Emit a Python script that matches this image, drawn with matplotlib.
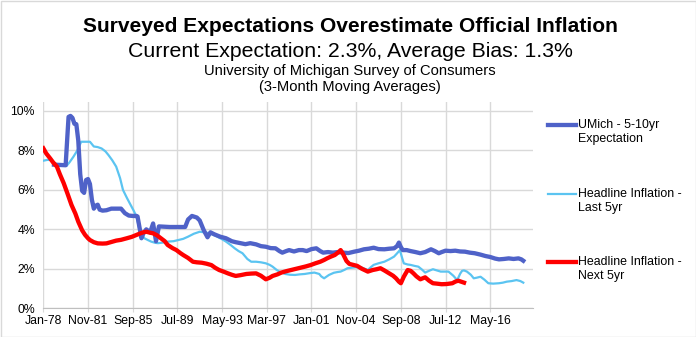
import numpy as np
import pandas as pd
import matplotlib
matplotlib.use('Agg')
import matplotlib.pyplot as plt
from matplotlib.lines import Line2D
from matplotlib.patches import Rectangle
from matplotlib.ticker import FuncFormatter

plt.rcParams['font.family'] = ['Liberation Sans', 'DejaVu Sans']

# months counted from Jan-1978, values in %
umich_month = [11, 23, 25, 26, 28, 30, 32, 34, 36, 38, 40, 42, 44, 46, 48, 50, 52, 54, 56, 58,
               61, 65, 70, 75, 80, 84, 88, 92, 96, 97, 99, 101, 103, 106, 110, 113, 116, 119,
               130, 140, 146, 149, 153, 158, 161, 165, 169, 172, 176, 182, 188, 194, 198, 203,
               208, 213, 219, 224, 229, 234, 239, 243, 246, 250, 253, 258, 263, 267, 271, 276,
               281, 285, 288, 293, 298, 303, 309, 314, 320, 325, 330, 335, 340, 345, 351, 356,
               361, 364, 366, 368, 370, 374, 378, 383, 388, 393, 399, 403, 407, 410, 414, 419,
               424, 429, 434, 439, 444, 450, 455, 460, 465, 469, 474, 479, 484, 489, 492, 494]
umich_val = [7.28, 7.25, 8.9, 9.7, 9.75, 9.65, 9.35, 9.33, 8.5, 6.8, 5.95, 5.85, 6.5, 6.55, 6.3,
             5.5, 5.05, 5.2, 5.25, 5.0, 4.95, 4.97, 5.05, 5.05, 5.05, 4.82, 4.7, 4.68, 4.68, 4.65,
             4.1, 3.55, 3.8, 4.0, 3.85, 4.3, 3.4, 4.15, 4.12, 4.12, 4.12, 4.5, 4.68, 4.6, 4.45,
             3.97, 3.6, 3.85, 3.75, 3.63, 3.55, 3.4, 3.35, 3.3, 3.25, 3.3, 3.24, 3.15, 3.12, 3.05,
             3.04, 2.9, 2.82, 2.9, 2.95, 2.88, 2.95, 2.95, 2.9, 3.0, 3.04, 2.9, 2.82, 2.85, 2.82,
             2.85, 2.82, 2.8, 2.87, 2.92, 2.99, 3.02, 3.07, 3.0, 2.99, 3.02, 3.04, 3.15, 3.33, 3.1,
             2.95, 2.95, 2.9, 2.85, 2.79, 2.85, 2.99, 2.9, 2.79, 2.85, 2.92, 2.9, 2.92, 2.88, 2.87,
             2.82, 2.79, 2.72, 2.65, 2.6, 2.52, 2.48, 2.5, 2.53, 2.5, 2.53, 2.48, 2.41]

last5_month = [0, 4, 8, 12, 16, 20, 24, 27, 31, 35, 39, 44, 48, 52, 56, 60, 64, 67, 71, 75, 79,
               82, 86, 89, 93, 96, 99, 102, 104, 108, 111, 115, 118, 123, 128, 134, 139, 144,
               149, 155, 161, 166, 171, 175, 179, 184, 188, 193, 197, 201, 205, 210, 214, 219,
               224, 229, 233, 236, 240, 243, 249, 254, 259, 264, 269, 274, 279, 284, 286, 289,
               294, 299, 303, 306, 310, 313, 318, 322, 327, 331, 334, 337, 340, 345, 351, 356,
               361, 364, 367, 369, 371, 375, 378, 382, 386, 390, 393, 397, 401, 405, 409, 413,
               417, 422, 426, 429, 431, 433, 436, 440, 443, 446, 450, 454, 458, 463, 469, 473,
               477, 482, 487, 491, 494]
last5_val = [7.48, 7.52, 7.52, 7.35, 7.22, 7.22, 7.22, 7.4, 7.68, 8.0, 8.44, 8.44, 8.44, 8.2,
             8.17, 8.1, 7.95, 7.77, 7.5, 7.18, 6.6, 6.0, 5.6, 5.32, 4.95, 4.64, 3.97, 3.7, 3.55,
             3.45, 3.38, 3.32, 3.3, 3.33, 3.38, 3.4, 3.46, 3.52, 3.63, 3.78, 3.88, 3.85, 3.8,
             3.72, 3.63, 3.5, 3.38, 3.2, 3.04, 2.9, 2.79, 2.5, 2.36, 2.36, 2.33, 2.28, 2.2, 2.11,
             1.95, 1.86, 1.74, 1.7, 1.69, 1.72, 1.74, 1.78, 1.81, 1.74, 1.62, 1.52, 1.69, 1.8,
             1.84, 1.86, 1.95, 2.03, 2.06, 2.08, 2.08, 2.0, 1.94, 2.08, 2.2, 2.28, 2.36, 2.48,
             2.62, 2.78, 2.95, 2.6, 2.28, 2.22, 2.2, 2.15, 2.11, 1.95, 1.81, 1.9, 1.98, 1.92,
             1.86, 1.86, 1.86, 1.65, 1.43, 1.75, 1.9, 1.92, 1.86, 1.7, 1.52, 1.55, 1.6, 1.45,
             1.27, 1.25, 1.27, 1.3, 1.35, 1.38, 1.43, 1.38, 1.3]

next5_month = [0, 3, 7, 10, 14, 17, 21, 25, 29, 33, 36, 40, 43, 46, 48, 52, 56, 61, 65, 70, 75,
               80, 86, 91, 96, 100, 103, 106, 110, 113, 117, 121, 125, 128, 133, 137, 141, 144,
               149, 154, 158, 163, 168, 173, 177, 181, 186, 190, 194, 198, 203, 209, 214, 219,
               224, 229, 233, 236, 241, 245, 250, 255, 260, 265, 270, 275, 280, 285, 289, 292,
               296, 300, 304, 306, 308, 310, 312, 315, 319, 323, 328, 334, 339, 343, 347, 351,
               356, 360, 363, 366, 368, 371, 375, 378, 381, 384, 388, 393, 397, 401, 405, 410,
               415, 421, 424, 427, 430, 433]
next5_val = [8.11, 7.85, 7.6, 7.4, 7.18, 6.8, 6.34, 5.8, 5.24, 4.8, 4.39, 3.95, 3.72, 3.55,
             3.46, 3.35, 3.29, 3.28, 3.29, 3.36, 3.43, 3.47, 3.55, 3.62, 3.72, 3.8, 3.85, 3.88,
             3.83, 3.8, 3.7, 3.55, 3.4, 3.21, 3.05, 2.95, 2.8, 2.7, 2.55, 2.36, 2.33, 2.31, 2.26,
             2.19, 2.05, 1.94, 1.85, 1.77, 1.7, 1.64, 1.68, 1.74, 1.76, 1.77, 1.65, 1.47, 1.55,
             1.64, 1.72, 1.81, 1.88, 1.94, 2.0, 2.06, 2.12, 2.19, 2.28, 2.36, 2.45, 2.53, 2.62,
             2.7, 2.85, 2.95, 2.8, 2.6, 2.4, 2.25, 2.2, 2.15, 2.0, 1.86, 1.94, 1.98, 2.03, 1.92,
             1.77, 1.65, 1.52, 1.35, 1.27, 1.6, 1.94, 1.9, 1.77, 1.62, 1.47, 1.57, 1.4, 1.27,
             1.25, 1.22, 1.23, 1.27, 1.35, 1.4, 1.35, 1.3]

tick_month = np.arange(0, 461, 46)
tick_lab = [(pd.Timestamp('1978-01-01') + pd.DateOffset(months=int(m))).strftime('%b-%y')
            for m in tick_month]

c_umich = '#4F62C8'
c_last5 = '#5BC4F1'
c_next5 = '#FF0000'
grid_c = '#D9D9D9'

fig = plt.figure(figsize=(6.96, 3.37), dpi=100)
ax = fig.add_axes([43.3 / 696, 1 - 308.3 / 337, 490 / 696, 206.6 / 337])

ax.plot(last5_month, last5_val, color=c_last5, lw=1.6, zorder=3)
ax.plot(umich_month, umich_val, color=c_umich, lw=3.1, zorder=4)
ax.plot(next5_month, next5_val, color=c_next5, lw=3.1, zorder=5)

ax.set_xlim(0, 504.3)
ax.set_ylim(0, 10.47)
ax.set_yticks(np.arange(0, 11, 2))
ax.yaxis.set_major_formatter(FuncFormatter(lambda v, p: '%d%%' % v))
ax.set_xticks(tick_month)
ax.set_xticklabels(tick_lab)

ax.grid(True, color=grid_c, lw=1.0)
ax.set_axisbelow(True)
for s in ['top', 'right', 'left']:
    ax.spines[s].set_visible(False)
ax.spines['bottom'].set_color('#BFBFBF')
ax.tick_params(axis='y', length=0, labelsize=8.8, pad=6, colors='#000000')
ax.tick_params(axis='x', length=3, color=grid_c, labelsize=8.8, pad=2, colors='#000000')
ax.tick_params(axis='x', colors=grid_c, labelcolor='#000000')

# titles
fig.text(0.503, 1 - 31.7 / 337, 'Surveyed Expectations Overestimate Official Inflation',
         ha='center', va='baseline', fontsize=15.1, fontweight='bold')
fig.text(0.503, 1 - 56.7 / 337, 'Current Expectation: 2.3%, Average Bias: 1.3%',
         ha='center', va='baseline', fontsize=15.3)
fig.text(0.503, 1 - 75 / 337, 'University of Michigan Survey of Consumers',
         ha='center', va='baseline', fontsize=10.6)
fig.text(0.503, 1 - 90.5 / 337, '(3-Month Moving Averages)',
         ha='center', va='baseline', fontsize=10.6)

# legend
leg = [(c_umich, 3.1, 125.0, ['UMich - 5-10yr', 'Expectation']),
       (c_last5, 1.6, 194.3, ['Headline Inflation -', 'Last 5yr']),
       (c_next5, 3.1, 261.7, ['Headline Inflation -', 'Next 5yr'])]
for col, lw, ypx, lines in leg:
    yf = 1 - ypx / 337
    fig.add_artist(Line2D([548 / 696, 576 / 696], [yf, yf], color=col, lw=lw,
                          transform=fig.transFigure))
    for i, t in enumerate(lines):
        fig.text(578 / 696, 1 - (ypx + i * 13.8) / 337, t, ha='left', va='center',
                 fontsize=8.9)

fig.add_artist(Rectangle((0.5 / 696, 0.5 / 337), 695 / 696, 336 / 337, fill=False,
                         edgecolor=grid_c, lw=1.0, transform=fig.transFigure))

fig.savefig('out.png', dpi=100)
plt.close()
